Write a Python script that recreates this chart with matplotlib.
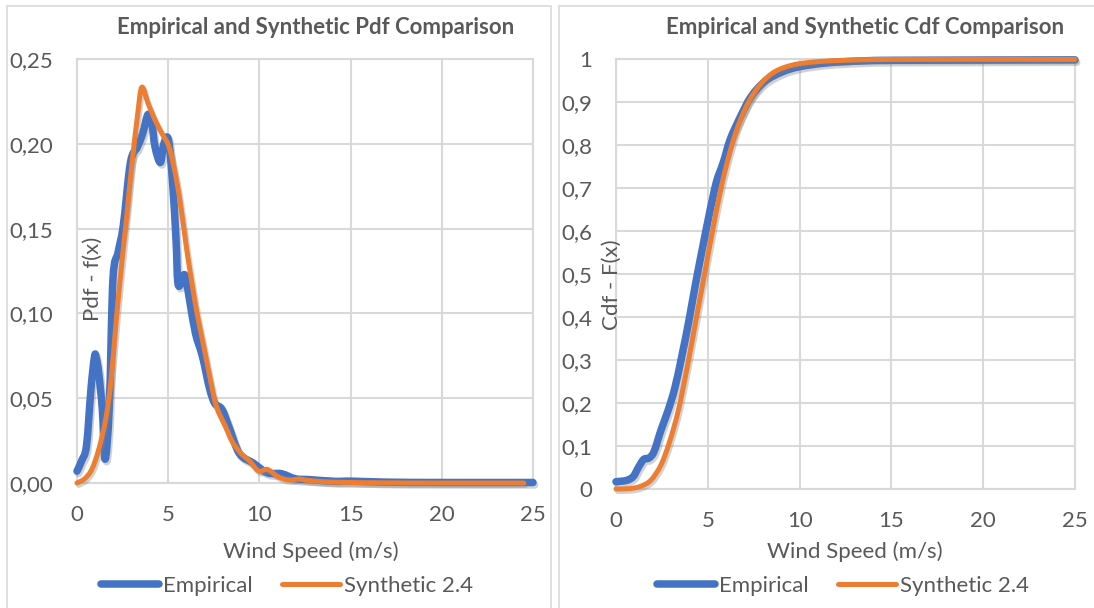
import matplotlib
matplotlib.use("Agg")
import matplotlib.pyplot as plt
import matplotlib.patheffects as pe
from matplotlib.lines import Line2D
from matplotlib.patches import Rectangle, PathPatch
from matplotlib.path import Path

# ---- data -----------------------------------------------------------------
pdf_emp_x = [0.0, 0.25, 0.52, 0.77, 0.96, 1.05, 1.19, 1.39, 1.54, 1.77, 1.97, 2.25, 2.54,
             2.93, 3.31, 3.6, 3.89, 4.1, 4.28, 4.57, 4.76, 5.01, 5.24, 5.43, 5.53, 5.72,
             5.92, 6.2, 6.5, 6.88, 7.26, 7.55, 7.94, 8.32, 8.9, 9.67, 10.44, 11.2, 11.98,
             12.76, 14.1, 15.07, 17.0, 20.0, 25.0]
pdf_emp_y = [0.007, 0.013, 0.022, 0.056, 0.0745, 0.074, 0.065, 0.043, 0.014, 0.045, 0.12,
             0.136, 0.152, 0.189, 0.198, 0.206, 0.2173, 0.212, 0.198, 0.189, 0.200, 0.2025,
             0.177, 0.143, 0.118, 0.118, 0.1225, 0.106, 0.088, 0.0745, 0.056, 0.047, 0.0436,
             0.0334, 0.0174, 0.0117, 0.006, 0.0055, 0.0025, 0.002, 0.001, 0.0011, 0.0005,
             0.0003, 0.0003]

pdf_syn_x = [0.0, 0.42, 0.81, 1.19, 1.58, 1.87, 2.16, 2.45, 2.74, 3.02, 3.31, 3.55, 3.89,
             4.28, 4.66, 5.05, 5.43, 5.72, 6.01, 6.3, 6.59, 6.98, 7.36, 7.65, 8.13, 8.52,
             9.0, 9.48, 9.96, 10.44, 11.02, 11.6, 12.18, 12.76, 14.1, 17.0, 20.0, 24.5]
pdf_syn_y = [0.0, 0.0025, 0.008, 0.0197, 0.038, 0.061, 0.097, 0.129, 0.159, 0.189, 0.216,
             0.2333, 0.224, 0.214, 0.206, 0.198, 0.180, 0.161, 0.138, 0.118, 0.0996, 0.079,
             0.0585, 0.0448, 0.0334, 0.0242, 0.0174, 0.0128, 0.007, 0.008, 0.0037, 0.0018,
             0.0023, 0.0014, 0.0005, 0.0001, 0.0, 0.0]

cdf_emp_x = [0.0, 0.57, 0.94, 1.23, 1.51, 1.79, 2.07, 2.45, 2.83, 3.21, 3.58, 3.96, 4.34,
             4.71, 5.09, 5.47, 5.84, 6.22, 6.79, 7.35, 8.11, 9.05, 9.99, 11.5, 13.4, 15.3,
             25.0]
cdf_emp_y = [0.017, 0.020, 0.029, 0.051, 0.069, 0.072, 0.087, 0.137, 0.182, 0.236, 0.308,
             0.389, 0.479, 0.560, 0.641, 0.714, 0.759, 0.813, 0.867, 0.912, 0.948, 0.970,
             0.982, 0.991, 0.9955, 0.997, 0.998]

cdf_syn_x = [0.0, 0.75, 1.32, 1.89, 2.45, 2.92, 3.39, 3.87, 4.34, 4.81, 5.28, 5.75, 6.22,
             6.69, 7.26, 7.92, 8.67, 9.62, 10.75, 12.44, 15.27, 25.0]
cdf_syn_y = [0.0, 0.001, 0.006, 0.020, 0.056, 0.110, 0.182, 0.281, 0.389, 0.497, 0.605,
             0.705, 0.786, 0.849, 0.903, 0.944, 0.971, 0.986, 0.993, 0.997, 0.999, 0.999]

x_ticks = [0, 5, 10, 15, 20, 25]
pdf_ticks = [0.0, 0.05, 0.10, 0.15, 0.20, 0.25]
pdf_tick_labels = ["0,00", "0,05", "0,10", "0,15", "0,20", "0,25"]
cdf_ticks = [0.0, 0.1, 0.2, 0.3, 0.4, 0.5, 0.6, 0.7, 0.8, 0.9, 1.0]
cdf_tick_labels = ["0", "0,1", "0,2", "0,3", "0,4", "0,5", "0,6", "0,7", "0,8", "0,9", "1"]

series_names = ["Empirical", "Synthetic 2.4"]

# ---- style ----------------------------------------------------------------
BLUE = "#4472C4"
ORANGE = "#ED7D31"
GRID = "#D9D9D9"
TEXT = "#595959"
FS = 16
LW_BLUE = 5.4
LW_ORANGE = 3.6

plt.rcParams["font.family"] = ["Lato", "DejaVu Sans"]

W, H = 1094, 608
fig = plt.figure(figsize=(W / 100, H / 100), dpi=100)


def px_box(x0, y0, x1, y1):
    return [x0 / W, 1 - y1 / H, (x1 - x0) / W, (y1 - y0) / H]


# chart frames
for (x0, x1) in [(7, 551), (559, 1100)]:
    fig.add_artist(Rectangle((x0 / W, -0.01), (x1 - x0) / W, 1 - 6 / H + 0.01,
                             transform=fig.transFigure, fill=False,
                             edgecolor=GRID, linewidth=1.2))

shadow = [pe.SimpleLineShadow(offset=(1.2, -1.8), shadow_color="#7f7f7f", alpha=0.35),
          pe.Normal()]


def smooth_line(ax, xs, ys, color, lw, z):
    """Smoothed line through the points (cubic Bezier segments, Catmull-Rom tangents)."""
    pts = list(zip(xs, ys))
    n = len(pts)
    verts = [pts[0]]
    codes = [Path.MOVETO]
    for i in range(n - 1):
        p0 = pts[i - 1] if i > 0 else pts[i]
        p1 = pts[i]
        p2 = pts[i + 1]
        p3 = pts[i + 2] if i + 2 < n else pts[i + 1]
        c1 = (p1[0] + (p2[0] - p0[0]) / 6, p1[1] + (p2[1] - p0[1]) / 6)
        c2 = (p2[0] - (p3[0] - p1[0]) / 6, p2[1] - (p3[1] - p1[1]) / 6)
        verts += [c1, c2, p2]
        codes += [Path.CURVE4] * 3
    patch = PathPatch(Path(verts, codes), fill=False, edgecolor=color, linewidth=lw,
                      joinstyle="round", capstyle="round", zorder=z, clip_on=False,
                      path_effects=shadow)
    ax.add_patch(patch)


def style_axes(ax, yticks, ylabels, ylim):
    ax.set_xlim(0, 25)
    ax.set_ylim(*ylim)
    ax.set_xticks(x_ticks)
    ax.set_xticklabels([str(t) for t in x_ticks])
    ax.set_yticks(yticks)
    ax.set_yticklabels(ylabels)
    ax.grid(True, color=GRID, linewidth=1.5)
    ax.set_axisbelow(True)
    for s in ax.spines.values():
        s.set_color(GRID)
        s.set_linewidth(1.5)
    ax.tick_params(length=0, labelsize=FS, colors=TEXT)
    ax.tick_params(axis="x", pad=16)
    ax.tick_params(axis="y", pad=17)


def draw_legend(cx, cy):
    handles = [Line2D([], [], color=BLUE, linewidth=LW_BLUE, solid_capstyle="round"),
               Line2D([], [], color=ORANGE, linewidth=LW_ORANGE, solid_capstyle="round")]
    fig.legend(handles, series_names, loc="center", ncol=2,
               bbox_to_anchor=(cx / W, 1 - cy / H), frameon=False,
               fontsize=FS, labelcolor=TEXT, handlelength=2.6, handletextpad=0.2,
               columnspacing=1.3, borderaxespad=0)


# ---- Pdf panel ------------------------------------------------------------
ax1 = fig.add_axes(px_box(77, 59, 533, 483))
style_axes(ax1, pdf_ticks, pdf_tick_labels, (0, 0.25))
smooth_line(ax1, pdf_emp_x, pdf_emp_y, BLUE, LW_BLUE, 3)
smooth_line(ax1, pdf_syn_x, pdf_syn_y, ORANGE, LW_ORANGE, 4)
fig.text(316 / W, 1 - 27 / H, "Empirical and Synthetic Pdf Comparison", ha="center",
         va="center", fontsize=FS, fontweight="bold", color=TEXT)
fig.text(311 / W, 1 - 552 / H, "Wind Speed (m/s)", ha="center", va="center",
         fontsize=FS, color=TEXT)
fig.text(93 / W, 1 - 279 / H, "Pdf - f(x)", ha="center", va="center", rotation=90,
         fontsize=FS, color=TEXT)
draw_legend(287, 586)

# ---- Cdf panel ------------------------------------------------------------
ax2 = fig.add_axes(px_box(616, 59, 1075, 489))
style_axes(ax2, cdf_ticks, cdf_tick_labels, (0, 1))
smooth_line(ax2, cdf_emp_x, cdf_emp_y, BLUE, LW_BLUE, 3)
smooth_line(ax2, cdf_syn_x, cdf_syn_y, ORANGE, LW_ORANGE, 4)
fig.text(865 / W, 1 - 27 / H, "Empirical and Synthetic Cdf Comparison", ha="center",
         va="center", fontsize=FS, fontweight="bold", color=TEXT)
fig.text(855 / W, 1 - 552 / H, "Wind Speed (m/s)", ha="center", va="center",
         fontsize=FS, color=TEXT)
fig.text(612 / W, 1 - 285 / H, "Cdf - F(x)", ha="center", va="center", rotation=90,
         fontsize=FS, color=TEXT)
draw_legend(843, 586)

fig.savefig("out.png", dpi=100, facecolor="white")
